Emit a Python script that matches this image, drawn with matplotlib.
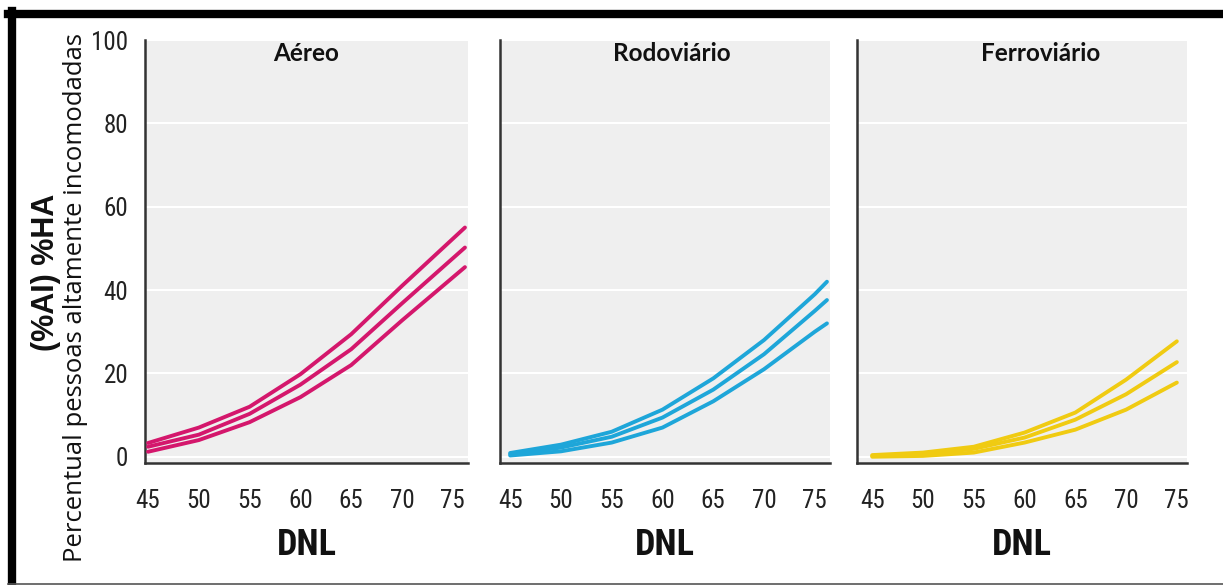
import matplotlib
matplotlib.use("Agg")
import matplotlib.pyplot as plt
from matplotlib import font_manager
from matplotlib.lines import Line2D

# --- data ---
titles = ["Aéreo", "Rodoviário", "Ferroviário"]
colors = ["#d4176c", "#1ea6d9", "#f0cb12"]

aereo_x = [45, 50, 55, 60, 65, 70, 76.2]
aereo_upper = [3.3, 7.0, 12.0, 19.8, 29.4, 41.0, 55.0]
aereo_mid = [2.4, 5.3, 10.3, 17.3, 25.8, 36.8, 50.2]
aereo_lower = [1.2, 4.0, 8.3, 14.3, 22.0, 32.7, 45.5]

rodo_x = [45, 50, 55, 60, 65, 70, 75, 76.2]
rodo_upper = [0.9, 2.9, 6.0, 11.3, 18.8, 28.0, 39.0, 42.0]
rodo_mid = [0.6, 2.2, 4.8, 9.4, 16.1, 24.6, 35.0, 37.6]
rodo_lower = [0.3, 1.3, 3.4, 7.0, 13.3, 21.0, 30.0, 32.0]

ferro_x = [45, 50, 55, 60, 65, 70, 75]
ferro_upper = [0.4, 1.0, 2.4, 5.8, 10.6, 18.5, 27.7]
ferro_mid = [0.2, 0.6, 1.9, 4.6, 8.9, 15.0, 22.7]
ferro_lower = [0.0, 0.2, 1.0, 3.4, 6.5, 11.3, 17.8]

x_ticks = [45, 50, 55, 60, 65, 70, 75]
y_ticks = [0, 20, 40, 60, 80, 100]

series = [
    (aereo_x, [aereo_upper, aereo_mid, aereo_lower]),
    (rodo_x, [rodo_upper, rodo_mid, rodo_lower]),
    (ferro_x, [ferro_upper, ferro_mid, ferro_lower]),
]


def pick_font(names, fallback="DejaVu Sans"):
    installed = {f.name for f in font_manager.fontManager.ttflist}
    for n in names:
        if n in installed:
            return n
    return fallback


narrow = pick_font(["Liberation Sans Narrow", "Roboto Condensed", "Liberation Sans"])
title_font = pick_font(["Lato", "Open Sans"])
label_font = pick_font(["Open Sans", "Noto Sans"])

W, H = 1223, 585
fig = plt.figure(figsize=(W / 100, H / 100), dpi=100)

# panel boxes in pixels: left, right
boxes = [(145, 468), (500, 830), (857, 1187)]
xlims = [(44.7, 76.5), (44.0, 76.5), (43.5, 76.0)]
title_pos = [0.50, 0.52, 0.555]
top_px, bottom_px = 40, 463

for i, ((l, r), (xs, ys)) in enumerate(zip(boxes, series)):
    ax = fig.add_axes([l / W, (H - bottom_px) / H, (r - l) / W, (bottom_px - top_px) / H])
    ax.set_facecolor("#efefef")
    for s in ["top", "right"]:
        ax.spines[s].set_visible(False)
    for s in ["left", "bottom"]:
        ax.spines[s].set_color("#333333")
        ax.spines[s].set_linewidth(1.8)
    ax.set_xlim(*xlims[i])
    ax.set_ylim(-1.5, 100)
    ax.set_yticks(y_ticks)
    ax.set_xticks(x_ticks)
    ax.grid(axis="y", color="white", linewidth=1.5)
    ax.set_axisbelow(True)
    ax.tick_params(length=0, labelsize=18)
    ax.tick_params(axis="y", pad=12)
    ax.tick_params(axis="x", pad=19)
    for lab in ax.get_xticklabels() + ax.get_yticklabels():
        lab.set_fontfamily(narrow)
        lab.set_color("#222222")
    if i > 0:
        ax.set_yticklabels([])
    for y in ys:
        ax.plot(xs, y, color=colors[i], lw=2.8, solid_capstyle="round", zorder=3)
    ax.text(title_pos[i], 0.995, titles[i], transform=ax.transAxes, ha="center", va="top",
            fontsize=17.5, fontweight="bold", fontfamily=title_font, color="#111111")
    ax.set_xlabel("DNL", fontsize=26, fontweight="bold", fontfamily=narrow,
                  color="#111111", labelpad=10)

# y axis label, two lines
fig.text(46 / W, (H - 272) / H, "(%AI) %HA", rotation=90, ha="center", va="center",
         fontsize=22, fontweight="bold", fontfamily="Liberation Sans", color="#111111")
fig.text(76 / W, (H - 297) / H, "Percentual pessoas altamente incomodadas", rotation=90,
         ha="center", va="center", fontsize=18.5, fontfamily=label_font, color="#111111")

# page frame
fig.add_artist(Line2D([8 / W, 1], [1 - 14 / H, 1 - 14 / H], color="black", lw=6,
                      transform=fig.transFigure))
fig.add_artist(Line2D([12 / W, 12 / W], [0, 1 - 11 / H], color="black", lw=6,
                      transform=fig.transFigure))
fig.add_artist(Line2D([8 / W, 1], [1.5 / H, 1.5 / H], color="#555555", lw=1.2,
                      transform=fig.transFigure))

fig.savefig("out.png", dpi=100)
